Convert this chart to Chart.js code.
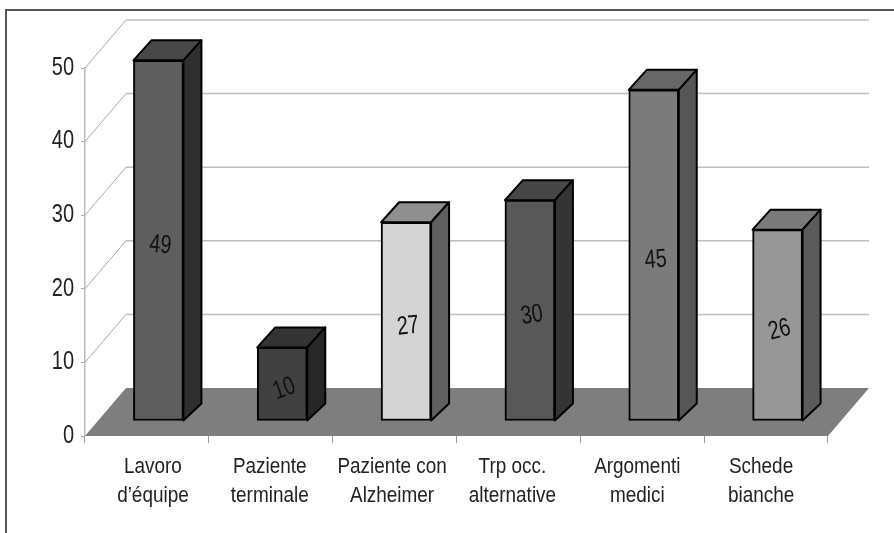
<!DOCTYPE html>
<html>
<head>
<meta charset="utf-8">
<script src="https://cdn.jsdelivr.net/npm/chart.js@4"></script>
<style>
  html, body { margin: 0; padding: 0; background: #fff; }
  canvas { display: block; }
</style>
</head>
<body>
<canvas id="myChart" width="894" height="533"></canvas>
<script>
const categories = [
  ["Lavoro", "d’équipe"],
  ["Paziente", "terminale"],
  ["Paziente con", "Alzheimer"],
  ["Trp occ.", "alternative"],
  ["Argomenti", "medici"],
  ["Schede", "bianche"],
];
const values = [49, 10, 27, 30, 45, 26];
const yTicks = [0, 10, 20, 30, 40, 50];

const frontColor = ["#5e5e5e", "#414141", "#d4d4d4", "#585858", "#7b7b7b", "#979797"];
const topColor = ["#484848", "#343434", "#8f8f8f", "#464646", "#676767", "#7a7a7a"];
const sideColor = ["#2f2f2f", "#272727", "#606060", "#343434", "#565656", "#5b5b5b"];
const labelTilt = [5, -20, -6, -9, -4, -14];
const xLabelNudge = [6, -1, -2.5, -6, -5, -5];

const wallDepth = { x: 41, y: 48 };
const barShift = { x: 11.5, y: -15 };
const barDepth = { x: 18, y: 20 };

const face = (ctx, points, color) => {
  ctx.beginPath();
  points.forEach((p, i) => (i ? ctx.lineTo(p[0], p[1]) : ctx.moveTo(p[0], p[1])));
  ctx.closePath();
  ctx.fillStyle = color;
  ctx.fill();
  ctx.stroke();
};

// the installed fonts have no narrow face, so squeeze the text by hand
const squeezedText = (ctx, text, x, y, size, squeeze, align, tilt) => {
  ctx.save();
  ctx.translate(x, y);
  if (tilt) ctx.rotate((tilt * Math.PI) / 180);
  ctx.scale(squeeze, 1);
  ctx.font = size + 'px "Liberation Sans", sans-serif';
  ctx.textAlign = align;
  ctx.textBaseline = "middle";
  ctx.fillText(text, 0, 0);
  ctx.restore();
};

// frame, floor and back wall behind the bars
const room = {
  id: "room",
  beforeDraw(chart) {
    const { ctx, width, height } = chart;
    ctx.save();
    ctx.fillStyle = "#fff";
    ctx.fillRect(0, 0, width, height);
    ctx.strokeStyle = "#555";
    ctx.lineWidth = 2;
    ctx.beginPath();
    ctx.moveTo(6, height);
    ctx.lineTo(6, 10);
    ctx.lineTo(width, 10);
    ctx.stroke();
    ctx.restore();
  },
  beforeDatasetsDraw(chart) {
    const { ctx, chartArea: area, scales } = chart;
    const dx = wallDepth.x;
    const dy = wallDepth.y;
    ctx.save();
    scales.y.ticks.forEach((t) => {
      const y = scales.y.getPixelForValue(t.value);
      if (t.value === 0) return;
      ctx.strokeStyle = "#a8a8a8";
      ctx.lineWidth = 1;
      ctx.beginPath();
      ctx.moveTo(area.left, y);
      ctx.lineTo(area.left + dx, y - dy);
      ctx.stroke();
      ctx.strokeStyle = "#bdbdbd";
      ctx.lineWidth = 1.5;
      ctx.beginPath();
      ctx.moveTo(area.left + dx, y - dy);
      ctx.lineTo(area.right + dx, y - dy);
      ctx.stroke();
    });
    ctx.beginPath();
    ctx.moveTo(area.left, area.bottom);
    ctx.lineTo(area.right, area.bottom);
    ctx.lineTo(area.right + dx, area.bottom - dy);
    ctx.lineTo(area.left + dx, area.bottom - dy);
    ctx.closePath();
    ctx.fillStyle = "#7e7e7e";
    ctx.fill();
    ctx.restore();
  },
  beforeDatasetDraw(chart, args) {
    const { ctx } = chart;
    ctx.save();
    ctx.translate(barShift.x, barShift.y);
    ctx.strokeStyle = "#000";
    ctx.lineWidth = 2;
    ctx.lineJoin = "round";
    args.meta.data.forEach((bar, i) => {
      const { x, y, base, width } = bar.getProps(["x", "y", "base", "width"], true);
      const l = x - width / 2;
      const r = x + width / 2;
      face(ctx, [[l, y], [r, y], [r + barDepth.x, y - barDepth.y], [l + barDepth.x, y - barDepth.y]], topColor[i]);
      face(ctx, [[r, y], [r + barDepth.x, y - barDepth.y], [r + barDepth.x, base - barDepth.y + 3], [r, base]], sideColor[i]);
    });
  },
  afterDatasetDraw(chart, args) {
    const { ctx } = chart;
    ctx.fillStyle = "#111";
    args.meta.data.forEach((bar, i) => {
      const { x, y, base } = bar.getProps(["x", "y", "base"], true);
      squeezedText(ctx, String(values[i]), x + 2, (y + base) / 2 + 5, 26, 0.76, "center", labelTilt[i]);
    });
    ctx.restore();
  },
  afterDraw(chart) {
    const { ctx, scales } = chart;
    ctx.fillStyle = "#222";
    scales.y.ticks.forEach((t) => {
      squeezedText(ctx, String(t.value), 74, scales.y.getPixelForValue(t.value), 25, 0.8, "right");
    });
    categories.forEach((lines, i) => {
      const x = scales.x.getPixelForTick(i) + xLabelNudge[i];
      lines.forEach((line, j) => {
        squeezedText(ctx, line, x, 467 + j * 29, 22, 0.86, "center");
      });
    });
  },
};

const chart = new Chart(document.getElementById("myChart"), {
  type: "bar",
  data: {
    labels: categories,
    datasets: [
      {
        data: values,
        backgroundColor: frontColor,
        borderColor: "#000",
        borderWidth: 2,
        borderSkipped: false,
        barThickness: 50,
        clip: false,
      },
    ],
  },
  options: {
    responsive: false,
    animation: false,
    layout: { padding: { top: 68, right: 66, left: 0, bottom: 0 } },
    plugins: { legend: { display: false }, tooltip: { enabled: false } },
    scales: {
      y: {
        min: 0,
        max: 50,
        afterFit: (scale) => { scale.width = 85; },
        afterBuildTicks: (scale) => { scale.ticks = yTicks.map((value) => ({ value })); },
        grid: { drawOnChartArea: false, tickLength: 4, color: "#aaa" },
        border: { color: "#bbb", width: 1.5 },
        ticks: { display: false },
      },
      x: {
        afterFit: (scale) => { scale.height = 97; },
        grid: { drawOnChartArea: false, tickLength: 7, color: "#999" },
        border: { display: false },
        ticks: { display: false, autoSkip: false },
      },
    },
  },
  plugins: [room],
});
</script>
</body>
</html>
